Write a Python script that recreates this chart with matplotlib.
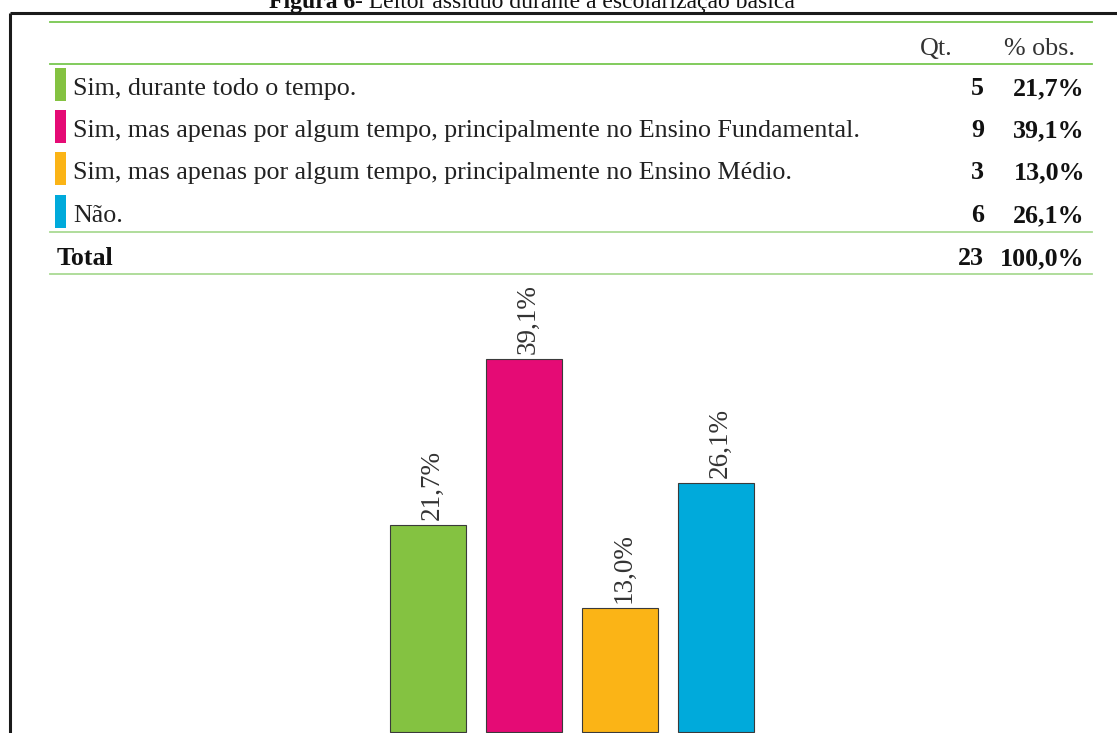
import matplotlib.pyplot as plt
from matplotlib.patches import Rectangle

# Data
categories = ['Sim, durante todo o tempo.',
              'Sim, mas apenas por algum tempo, principalmente no Ensino Fundamental.',
              'Sim, mas apenas por algum tempo, principalmente no Ensino Médio.',
              'Não.']
counts = [5, 9, 3, 6]
percents = [21.7, 39.1, 13.0, 26.1]
total_count = 23
total_pct = 100.0
colors = ['#84c241', '#e50b75', '#fbb416', '#00aadb']

W, H = 1117, 733
fig = plt.figure(figsize=(W / 100, H / 100), dpi=100)

# overlay axes in pixel coordinates for the table and frame
ov = fig.add_axes([0, 0, 1, 1])
ov.set_xlim(0, W)
ov.set_ylim(H, 0)
ov.axis('off')

serif = 'Liberation Serif'

# title (clipped at the top, as in the source)
ov.text(355, 8, 'Figura 6', ha='right', va='baseline', fontsize=17,
        fontweight='bold', family=serif, color='#111111')
ov.text(355, 8, '- Leitor assíduo durante a escolarização básica', ha='left',
        va='baseline', fontsize=17, family=serif, color='#111111')

# black frame
ov.plot([10, W + 5], [13, 13], color='#1a1a1a', lw=2.2, solid_capstyle='butt')
ov.plot([10, 10], [13, H + 5], color='#1a1a1a', lw=2.2, solid_capstyle='butt')

# table lines
for y, c in [(22, '#77c74f'), (64, '#77c74f'), (232, '#a9da93'), (274, '#a9da93')]:
    ov.plot([50, 1092], [y, y], color=c, lw=1.3)

fs = 18.7
ov.text(953, 55, 'Qt.', ha='right', va='baseline', fontsize=fs, family=serif, color='#333333')
ov.text(1075, 55, '% obs.', ha='right', va='baseline', fontsize=fs, family=serif, color='#333333')

row_top = [68, 110, 152, 195]
for i, (lab, n, p, c) in enumerate(zip(categories, counts, percents, colors)):
    top = row_top[i]
    ov.add_patch(Rectangle((55, top), 11, 33, color=c, lw=0))
    base = top + 27
    ov.text(73, base, lab, ha='left', va='baseline', fontsize=fs, family=serif, color='#222222')
    ov.text(984, base, str(n), ha='right', va='baseline', fontsize=fs, family=serif,
            fontweight='bold', color='#111111')
    ov.text(1085, base, f'{p:.1f}%'.replace('.', ','), ha='right', va='baseline',
            fontsize=fs, family=serif, fontweight='bold', color='#111111')

ov.text(57, 265, 'Total', ha='left', va='baseline', fontsize=fs, family=serif,
        fontweight='bold', color='#111111')
ov.text(984, 265, str(total_count), ha='right', va='baseline', fontsize=fs, family=serif,
        fontweight='bold', color='#111111')
ov.text(1085, 265, f'{total_pct:.1f}%'.replace('.', ','), ha='right', va='baseline',
        fontsize=fs, family=serif, fontweight='bold', color='#111111')

# bar chart axes: 96 px per category, 9.54 px per percent, baseline just below the image
k = 9.54
ax_left, ax_right = 300, 900
ax_bottom, ax_top = H, 293
ax = fig.add_axes([ax_left / W, (H - ax_bottom) / H, (ax_right - ax_left) / W,
                   (ax_bottom - ax_top) / H])
x0 = -(428 - ax_left) / 96
ax.set_xlim(x0, x0 + (ax_right - ax_left) / 96)
v0 = -(734 - ax_bottom) / k
ax.set_ylim(v0, v0 + (ax_bottom - ax_top) / k)
ax.axis('off')
ax.patch.set_alpha(0)

xs = range(len(percents))
ax.bar(xs, percents, width=76 / 96, color=colors, edgecolor='#3a3a3a', linewidth=0.8)
for x, p in zip(xs, percents):
    ax.annotate(f'{p:.1f}%'.replace('.', ','), xy=(x, p), xytext=(4, 5),
                textcoords='offset pixels', rotation=90, ha='center', va='bottom',
                fontsize=19.5, family=serif, color='#333333')

fig.savefig('out.png', dpi=100)
